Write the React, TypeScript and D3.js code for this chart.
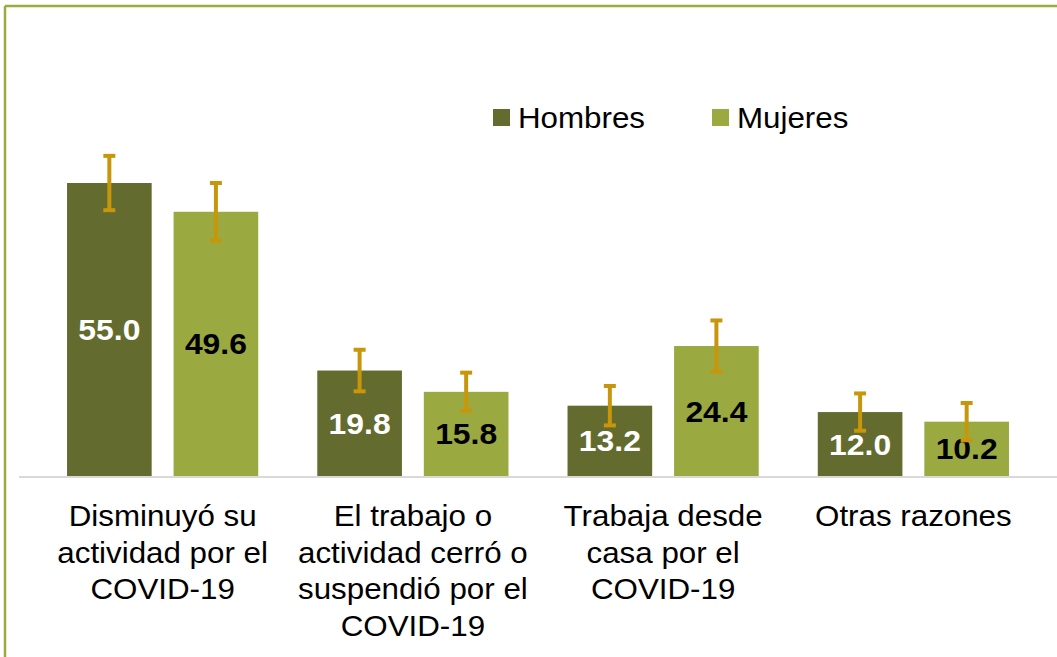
import React from "react";
import * as d3 from "d3";

const categories: string[][] = [
  ["Disminuyó su", "actividad por el", "COVID-19"],
  ["El trabajo o", "actividad cerró o", "suspendió por el", "COVID-19"],
  ["Trabaja desde", "casa por el", "COVID-19"],
  ["Otras razones"],
];
const seriesNames = ["Hombres", "Mujeres"];
const hombres = [55.0, 19.8, 13.2, 12.0];
const mujeres = [49.6, 15.8, 24.4, 10.2];
const hombresErr = [5.1, 3.9, 3.7, 3.5];
const mujeresErr = [5.4, 3.6, 4.8, 3.5];

const W = 1057;
const H = 657;
const colors = ["#636b2e", "#9ba941"];
const labelColors = ["#ffffff", "#000000"];
const errColor = "#c8960a";
const borderColor = "#9bab3f";
const font = "Liberation Sans, Arial, sans-serif";
const SX = 1.08;

export default function App() {
  const baseY = 476;
  const x0 = d3
    .scaleBand<number>()
    .domain(d3.range(categories.length))
    .range([37.5, 1038.5])
    .paddingInner(0.236)
    .paddingOuter(0.118);
  const x1 = d3
    .scaleBand<number>()
    .domain([0, 1])
    .range([0, x0.bandwidth()])
    .paddingInner(0.2056);
  const y = d3.scaleLinear().domain([0, 60]).range([baseY, baseY - 60 * 5.327]);

  const series = [
    { vals: hombres, errs: hombresErr },
    { vals: mujeres, errs: mujeresErr },
  ];

  return (
    <svg
      width={W}
      height={H}
      style={{ position: "absolute", left: 0, top: 0, background: "#fff" }}
      fontFamily={font}
    >
      <rect x={0} y={0} width={W} height={H} fill="#fff" />
      {/* border */}
      <line x1={5} y1={6} x2={W} y2={6} stroke={borderColor} strokeWidth={2.5} />
      <line x1={5} y1={6} x2={5} y2={H} stroke={borderColor} strokeWidth={2.5} />

      {/* axis line */}
      <line x1={19} x2={W} y1={baseY + 1} y2={baseY + 1} stroke="#d9d9d9" strokeWidth={2} />

      {/* bars */}
      {categories.map((_, ci) =>
        series.map((s, si) => {
          const bx = (x0(ci) as number) + (x1(si) as number);
          const bw = x1.bandwidth();
          const v = s.vals[ci];
          const top = y(v);
          const cx = bx + bw / 2;
          const e = s.errs[ci];
          const yT = y(v + e);
          const yB = y(v - e);
          return (
            <g key={`${ci}-${si}`}>
              <rect x={bx} y={top} width={bw} height={baseY - top} fill={colors[si]} />
              <text
                transform={`translate(${cx},${(top + baseY) / 2 + 10.5}) scale(${SX},1)`}
                textAnchor="middle"
                fontSize={29.5}
                fontWeight="bold"
                fill={labelColors[si]}
              >
                {v.toFixed(1)}
              </text>
              <line x1={cx} x2={cx} y1={yT} y2={yB} stroke={errColor} strokeWidth={4} />
              <line x1={cx - 6} x2={cx + 6} y1={yT} y2={yT} stroke={errColor} strokeWidth={4} />
              <line x1={cx - 6} x2={cx + 6} y1={yB} y2={yB} stroke={errColor} strokeWidth={4} />
            </g>
          );
        })
      )}

      {/* category labels */}
      {categories.map((lines, ci) => {
        const cx = (x0(ci) as number) + x0.bandwidth() / 2;
        return lines.map((ln, li) => (
          <text
            key={`${ci}-${li}`}
            transform={`translate(${cx},${526 + li * 36.5}) scale(${SX},1)`}
            textAnchor="middle"
            fontSize={29}
            fill="#000"
          >
            {ln}
          </text>
        ));
      })}

      {/* legend */}
      {seriesNames.map((name, i) => {
        const lx = [493, 712][i];
        return (
          <g key={name}>
            <rect x={lx} y={109} width={17} height={17} fill={colors[i]} />
            <text
              transform={`translate(${lx + 25},127.5) scale(${SX},1)`}
              fontSize={29}
              fill="#000"
            >
              {name}
            </text>
          </g>
        );
      })}
    </svg>
  );
}
